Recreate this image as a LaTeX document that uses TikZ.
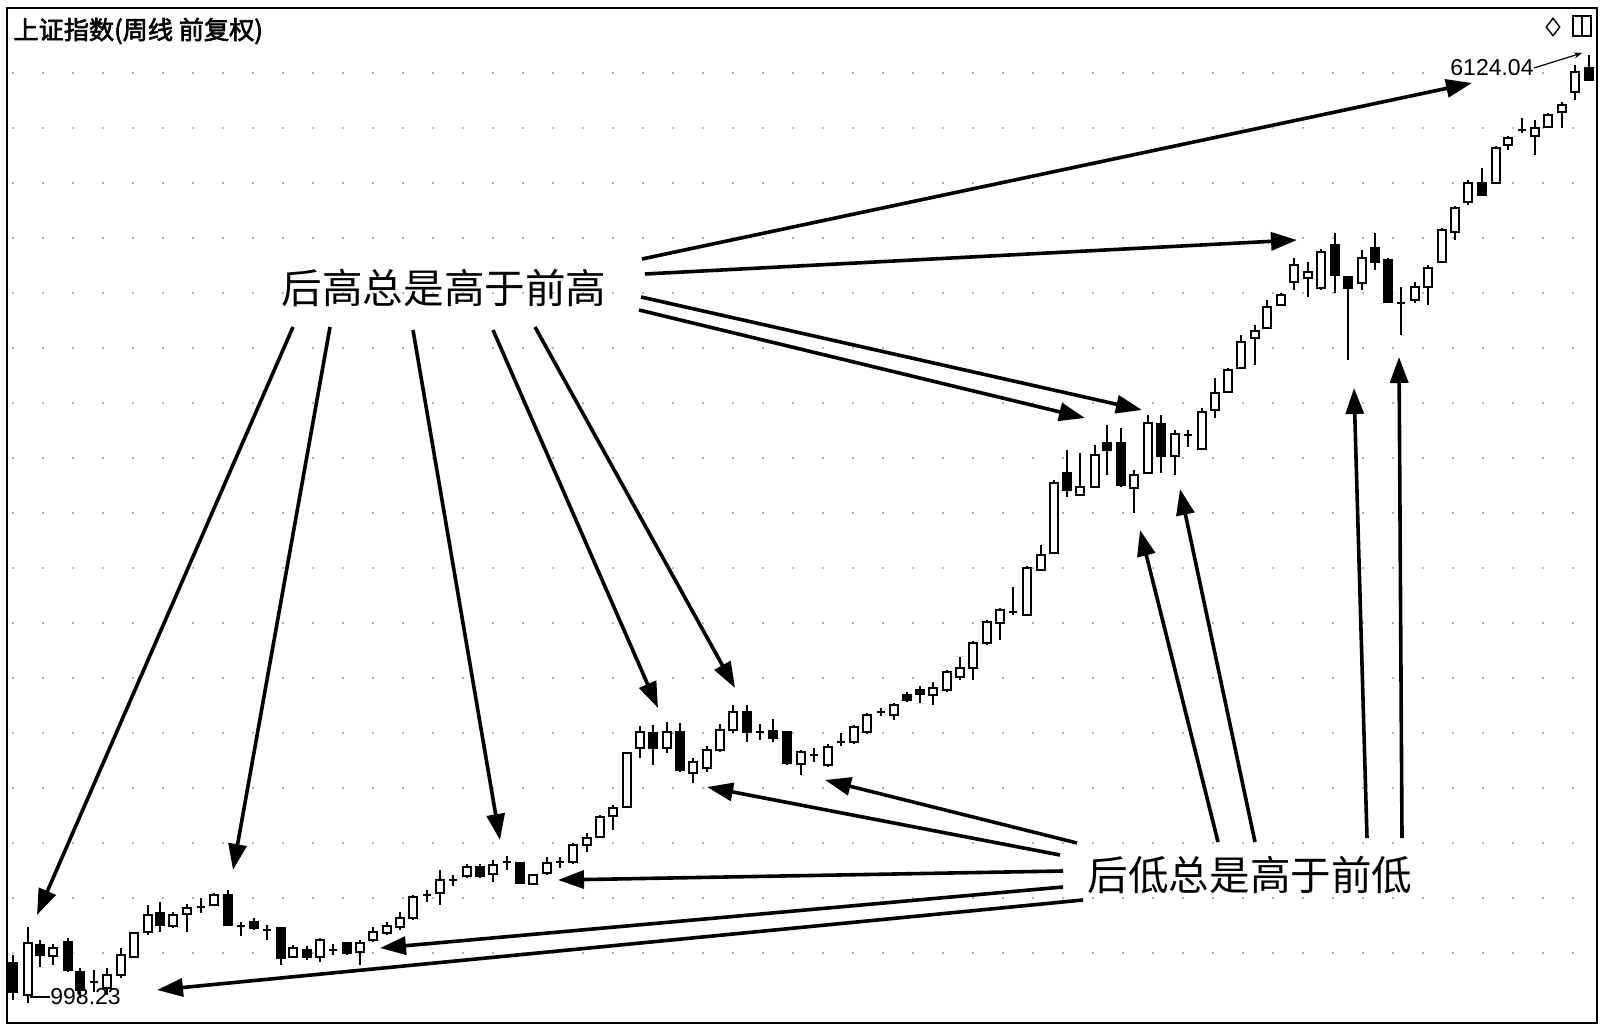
\documentclass[tikz,border=0pt]{standalone}
\usepackage{fontspec}
\setmainfont{Liberation Sans}
\newfontfamily\cjk{Noto Sans CJK SC}
\newfontfamily\cjkbold[FakeBold=2.5]{Noto Sans CJK SC}
\usetikzlibrary{arrows.meta,shapes.geometric}
\begin{document}
\begin{tikzpicture}[x=0.5pt,y=-0.5pt,
  bigarrow/.style={line width=1.8pt,-{Triangle[length=13pt,width=9pt]}},
  gridline/.style={gray!60,line width=0.7pt,dash pattern=on 1pt off 14pt},
  candle/.style={line width=1.05pt},
  biglabel/.style={font=\cjk\fontsize{20.3pt}{22pt}\selectfont,inner sep=0pt},
  numlabel/.style={font=\fontsize{11.5pt}{13pt}\selectfont,inner sep=0pt}]
\useasboundingbox (0,0) rectangle (1604,1036);
\fill[white] (0,0) rectangle (1604,1036);
% grid
\foreach \g in {73,128,...,953} \draw[gridline] (12,\g) -- (1592,\g);
% frame
\draw[line width=1.2pt] (7,8) rectangle (1597,1023);
% title
\node[anchor=west,inner sep=0pt,font=\cjkbold\fontsize{12.6pt}{14pt}\selectfont] (title) at (13,31) {上证指数(周线 前复权)};
% icons
\node[draw,diamond,inner sep=0pt,minimum width=7pt,minimum height=9pt,line width=0.7pt] (icon1) at (1553,27) {};
\node[draw,rectangle,inner sep=0pt,minimum width=9pt,minimum height=10pt,line width=0.9pt] (icon2) at (1582,26) {};
\draw[line width=0.9pt] (icon2.north) -- (icon2.south);
% white candles x/top/bottom/high/low
\foreach \x/\t/\b/\h/\l in {
28/943/995/927/1003, 53/948/956/944/965, 107/975/988/968/995, 121/955/975/948/978,
134/933/957/933/957, 148/915/932/905/935, 173/915/926/912/928, 187/908/914/904/932,
214/895/905/893/905, 293/948/957/945/957, 320/940/957/938/962, 360/943/952/940/965,
373/932/940/927/942, 387/926/933/922/935, 400/918/927/912/930, 413/897/918/895/920,
440/880/893/870/905, 467/867/876/864/878, 493/865/874/860/882, 533/875/884/874/884,
547/863/873/857/875, 573/845/862/843/864, 587/838/845/833/852, 600/817/837/815/838,
613/808/816/805/830, 627/753/807/752/808, 640/732/748/726/758, 667/732/748/722/753,
693/762/773/758/783, 707/750/768/746/772, 720/730/750/724/752, 733/712/730/705/733,
801/752/764/750/775, 828/747/765/744/767, 854/727/742/725/744, 867/715/732/713/734,
894/705/715/703/720, 933/688/695/682/705, 947/672/690/670/692, 960/668/677/657/680,
973/643/668/641/680, 987/622/643/620/645, 1000/610/623/608/640, 1027/568/615/566/616,
1041/555/570/545/571, 1054/483/553/480/554, 1080/487/495/453/496, 1095/455/487/445/488,
1134/475/488/470/513, 1148/423/473/415/474, 1175/434/456/430/475, 1202/412/449/408/450,
1215/393/410/378/418, 1228/370/392/368/393, 1241/342/368/335/369, 1255/331/338/325/365,
1267/307/328/300/329, 1281/295/305/293/306, 1294/265/282/258/290, 1308/272/278/262/297,
1321/252/288/249/290, 1362/258/283/250/290, 1415/287/300/282/303, 1428/268/287/265/305,
1442/230/262/228/263, 1455/208/232/206/240, 1468/183/202/180/205, 1496/148/183/146/184,
1508/138/145/136/150, 1535/128/136/120/155, 1548/115/127/113/128, 1562/105/112/102/128,
1575/72/92/65/100}
{ \draw[candle] (\x,\h) -- (\x,\l);
  \filldraw[candle,fill=white] (\x-4,\t) rectangle (\x+4,\b); }
% black candles
\foreach \x/\t/\b/\h/\l in {
13/963/992/955/1000, 40/945/955/940/967, 68/942/970/938/972, 80/972/990/968/998,
160/913/925/902/932, 228/895/925/890/925, 254/922/928/918/930, 281/928/958/927/965,
307/950/957/946/960, 347/943/953/942/955, 480/867/876/864/878, 520/863/883/862/884,
653/733/748/725/765, 680/732/770/723/772, 747/712/732/705/742, 773/731/738/719/742,
787/732/763/731/765, 907/695/700/692/702, 920/690/694/686/703, 1067/473/490/450/497,
1107/443/450/425/475, 1121/443/485/428/487, 1161/424/456/415/473, 1335/245/275/233/293,
1348/277/288/277/360, 1375/248/262/233/270, 1388/260/302/258/303, 1482/183/195/168/196,
1589/68/80/55/80}
{ \draw[candle] (\x,\h) -- (\x,\l);
  \filldraw[candle,fill=black] (\x-4,\t) rectangle (\x+4,\b); }
% doji crosses x/y/high/low
\foreach \x/\y/\h/\l in {
94/982/970/992, 201/907/898/913, 241/926/922/936, 267/930/925/940, 333/950/944/955,
427/895/890/902, 453/880/875/886, 507/862/856/870, 560/862/857/868, 760/732/724/740,
814/755/748/762, 841/742/733/746, 881/712/708/716, 1013/612/587/615, 1188/435/430/447,
1401/303/287/335, 1522/130/118/133}
{ \draw[candle] (\x,\h) -- (\x,\l);
  \draw[candle] (\x-4,\y) -- (\x+4,\y); }
% extreme labels
\node[numlabel,anchor=west] (lmax) at (1450,68) {6124.04};
\coordinate (pmax) at (1582,53);
\draw[line width=0.6pt,-{Stealth[length=4pt,width=3pt]}] (lmax.east) -- (pmax);
\node[numlabel,anchor=west] (lmin) at (50,997) {998.23};
\coordinate (pmin) at (30,997);
\draw[line width=0.7pt] (pmin) -- (lmin.west);
% big labels
\node[biglabel] (hi) at (444,288) {后高总是高于前高};
\node[biglabel] (lo) at (1250,875) {后低总是高于前低};
% arrow endpoints
\coordinate (ht1) at (293,327); \coordinate (hh1) at (37,915);
\coordinate (ht2) at (330,327); \coordinate (hh2) at (233,870);
\coordinate (ht3) at (413,330); \coordinate (hh3) at (500,840);
\coordinate (ht4) at (493,330); \coordinate (hh4) at (658,708);
\coordinate (ht5) at (535,327); \coordinate (hh5) at (735,688);
\coordinate (ht6) at (642,259); \coordinate (hh6) at (1472,83);
\coordinate (ht7) at (645,274); \coordinate (hh7) at (1297,240);
\coordinate (ht8) at (641,297); \coordinate (hh8) at (1142,410);
\coordinate (ht9) at (639,310); \coordinate (hh9) at (1085,418);
\coordinate (lt1) at (1077,843); \coordinate (lh1) at (825,780);
\coordinate (lt2) at (1060,855); \coordinate (lh2) at (707,787);
\coordinate (lt3) at (1063,871); \coordinate (lh3) at (558,880);
\coordinate (lt4) at (1063,887); \coordinate (lh4) at (380,948);
\coordinate (lt5) at (1083,900); \coordinate (lh5) at (157,990);
\coordinate (lt6) at (1218,842); \coordinate (lh6) at (1140,530);
\coordinate (lt7) at (1255,842); \coordinate (lh7) at (1180,489);
\coordinate (lt8) at (1367,838); \coordinate (lh8) at (1354,388);
\coordinate (lt9) at (1402,838); \coordinate (lh9) at (1399,357);
\foreach \i in {1,...,9} {
  \draw[bigarrow] (ht\i) -- (hh\i);
  \draw[bigarrow] (lt\i) -- (lh\i);
}
\end{tikzpicture}
\end{document}
